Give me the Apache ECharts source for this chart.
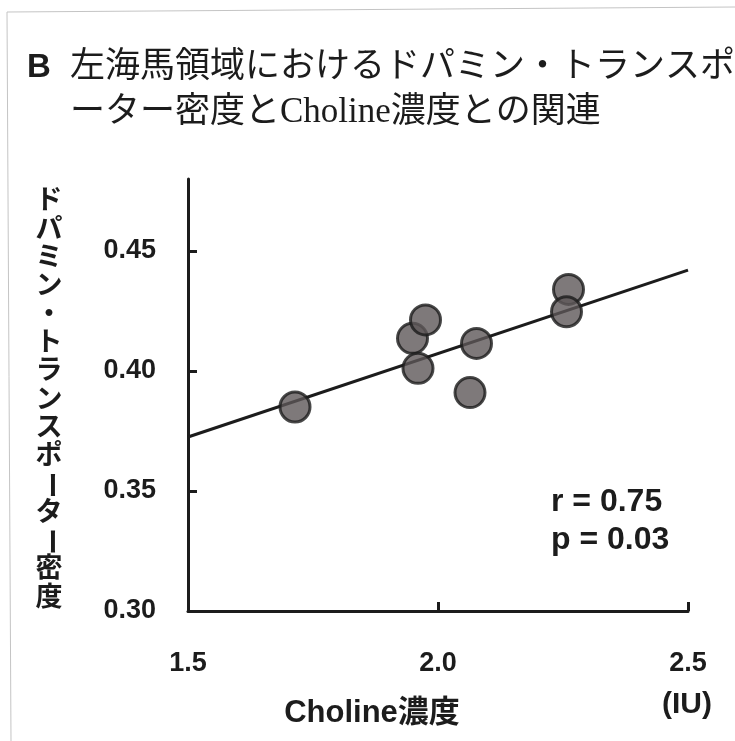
<!DOCTYPE html>
<html>
<head>
<meta charset="utf-8">
<script src="https://cdn.jsdelivr.net/npm/echarts@6/dist/echarts.min.js"></script>
<style>
  html, body { margin: 0; padding: 0; background: #fff; }
  #chart { width: 735px; height: 741px; }
</style>
</head>
<body>
<div id="chart"></div>
<script>
// Choline concentration (IU) vs. dopamine transporter density, left hippocampus
const cholineIU = [1.714, 1.949, 1.975, 1.960, 2.077, 2.064, 2.261, 2.257];
const datDensity = [0.385, 0.4136, 0.4213, 0.4011, 0.4115, 0.391, 0.434, 0.4247];

// Regression line end points
const fitX = [1.5, 2.5];
const fitY = [0.3725, 0.442];

const xTicks = [1.5, 2.0, 2.5];
const yTicks = [0.30, 0.35, 0.40, 0.45];

const titleLines = ['左海馬領域におけるドパミン・トランスポ', 'ーター密度とCholine濃度との関連'];
const yName = 'ドパミン・トランスポーター密度';
const xName = 'Choline濃度';
const statLines = ['r = 0.75', 'p = 0.03'];

const ink = '#1c1c1c';
const sans = '"Liberation Sans", "Noto Sans CJK JP", sans-serif';

const chart = echarts.init(document.getElementById('chart'), null, { renderer: 'canvas' });

// vertical y-axis title, one glyph per row; long vowel marks turned upright
const yNameGlyphs = Array.from(yName).map((ch, i) => ({
  type: 'text',
  x: 49,
  y: 202 + i * 28.3,
  rotation: ch === 'ー' ? -Math.PI / 2 : 0,
  style: {
    text: ch,
    fill: ink,
    font: 'bold 27px ' + sans,
    align: 'center',
    verticalAlign: 'middle'
  }
}));

const option = {
  animation: false,
  backgroundColor: '#ffffff',
  grid: { left: 188, right: 47, top: 179, bottom: 130 },
  xAxis: {
    type: 'value',
    min: 1.5,
    max: 2.5,
    interval: 0.5,
    splitLine: { show: false },
    axisLine: { show: true, lineStyle: { color: ink, width: 3 } },
    axisTick: { show: true, inside: true, length: 9, lineStyle: { color: ink, width: 3 }, customValues: xTicks },
    axisLabel: {
      customValues: xTicks,
      margin: 39,
      color: ink,
      fontFamily: sans,
      fontWeight: 'bold',
      fontSize: 27,
      formatter: v => v.toFixed(1)
    }
  },
  yAxis: {
    type: 'value',
    min: 0.30,
    max: 0.48,
    interval: 0.05,
    splitLine: { show: false },
    axisLine: { show: true, lineStyle: { color: ink, width: 3 } },
    axisTick: { show: true, inside: true, length: 9, lineStyle: { color: ink, width: 3 }, customValues: yTicks },
    axisLabel: {
      customValues: yTicks,
      margin: 32,
      color: ink,
      fontFamily: sans,
      fontWeight: 'bold',
      fontSize: 27,
      formatter: v => v.toFixed(2)
    }
  },
  series: [
    {
      type: 'line',
      data: fitX.map((x, i) => [x, fitY[i]]),
      symbol: 'none',
      lineStyle: { color: ink, width: 3 },
      z: 2,
      silent: true
    },
    {
      type: 'scatter',
      data: cholineIU.map((x, i) => [x, datDensity[i]]),
      symbol: 'circle',
      symbolSize: 30,
      itemStyle: { color: '#5e5759', borderColor: ink, borderWidth: 3 },
      z: 3
    }
  ],
  graphic: [
    { type: 'line', shape: { x1: 7, y1: 12, x2: 735, y2: 7 }, style: { stroke: '#c4c4c4', lineWidth: 1 } },
    { type: 'line', shape: { x1: 7, y1: 12, x2: 11, y2: 741 }, style: { stroke: '#c4c4c4', lineWidth: 1 } },
    {
      type: 'text', x: 27, y: 68,
      style: { text: 'B', fill: ink, font: 'bold 33px ' + sans, verticalAlign: 'middle' }
    },
    {
      type: 'text', x: 70, y: 68,
      style: { text: titleLines[0], fill: ink, font: '35px "Liberation Serif", "Noto Sans CJK JP", serif', verticalAlign: 'middle' }
    },
    {
      type: 'text', x: 70, y: 113,
      style: { text: titleLines[1], fill: ink, font: '35px "Liberation Serif", "Noto Sans CJK JP", serif', verticalAlign: 'middle' }
    },
    {
      type: 'text', x: 551, y: 502,
      style: { text: statLines[0], fill: ink, font: 'bold 32px ' + sans, verticalAlign: 'middle' }
    },
    {
      type: 'text', x: 551, y: 540,
      style: { text: statLines[1], fill: ink, font: 'bold 32px ' + sans, verticalAlign: 'middle' }
    },
    {
      type: 'text', x: 372, y: 713,
      style: { text: xName, fill: ink, font: 'bold 31px ' + sans, align: 'center', verticalAlign: 'middle' }
    },
    {
      type: 'text', x: 687, y: 705,
      style: { text: '(IU)', fill: ink, font: 'bold 30px ' + sans, align: 'center', verticalAlign: 'middle' }
    }
  ].concat(yNameGlyphs)
};

chart.setOption(option);
</script>
</body>
</html>
